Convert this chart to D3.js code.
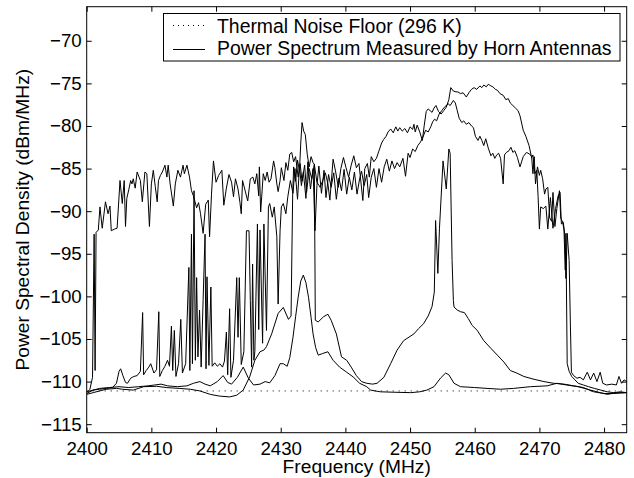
<!DOCTYPE html>
<meta charset="utf-8">
<style>
  body { margin: 0; background: #fff; }
  text { font-family: "Liberation Sans", Arial, Helvetica, sans-serif; }
</style>
<svg width="634" height="478"></svg>
<script src="https://d3js.org/d3.v7.min.js"></script>
<script>

    // ticks
    var freqTicks = [2400, 2410, 2420, 2430, 2440, 2450, 2460, 2470, 2480];
    var dbTicks = [-115, -110, -105, -100, -95, -90, -85, -80, -75, -70];

    // thermal noise floor at 296 K, dBm/MHz
    var noiseFloor = -111.1;

    var legendLabels = ["Thermal Noise Floor (296 K)", "Power Spectrum Measured by Horn Antennas"];

    // broadband signal, upper trace
    var traceA = [
        [2400.0,-111.3],[2400.5,-110.9],[2400.9,-109.5],[2401.15,-92.7],[2401.3,-108.7],[2401.45,-92.5],[2401.8,-92.2],
        [2402.05,-89.5],[2402.4,-92.0],[2402.9,-88.9],[2403.3,-90.3],[2403.6,-89.4],[2403.8,-92.3],[2404.3,-92.1],
        [2404.7,-92.0],[2405.15,-86.4],[2405.5,-89.1],[2405.8,-86.4],[2406.0,-91.8],[2406.2,-88.5],[2406.5,-87.5],
        [2406.8,-86.4],[2407.0,-86.8],[2407.2,-86.2],[2407.5,-87.3],[2407.8,-85.4],[2408.1,-86.0],[2408.3,-86.4],
        [2408.6,-88.9],[2409.0,-85.4],[2409.3,-85.6],[2409.7,-91.8],[2410.0,-86.8],[2410.3,-85.2],[2410.6,-87.1],
        [2410.9,-88.9],[2411.1,-86.4],[2411.4,-85.8],[2411.7,-85.4],[2412.1,-84.6],[2412.4,-86.0],[2412.6,-84.6],
        [2412.9,-86.8],[2413.4,-89.4],[2413.7,-86.8],[2414.1,-85.2],[2414.5,-86.0],[2414.9,-84.6],[2415.1,-85.6],
        [2415.5,-84.6],[2415.9,-86.0],[2416.2,-87.6],[2416.5,-88.2],[2417.0,-89.6],[2417.3,-89.0],[2417.6,-90.3],
        [2418.0,-92.6],[2418.4,-89.2],[2418.8,-88.7],[2419.0,-93.0],[2419.3,-88.0],[2419.6,-84.1],[2420.0,-86.6],
        [2420.4,-85.8],[2420.9,-85.2],[2421.2,-89.3],[2421.6,-87.3],[2422.0,-85.7],[2422.4,-86.6],[2422.7,-88.3],
        [2423.0,-86.2],[2423.4,-87.4],[2423.7,-89.0],[2423.9,-90.3],[2424.1,-86.4],[2424.5,-87.6],[2424.9,-88.8],
        [2425.3,-86.2],[2425.7,-86.0],[2426.0,-86.8],[2426.3,-85.6],[2426.6,-88.2],[2426.7,-84.8],[2426.9,-90.1],
        [2427.3,-85.6],[2427.6,-86.4],[2427.9,-85.4],[2428.2,-86.6],[2428.5,-86.2],[2428.9,-84.1],[2429.1,-84.9],
        [2429.4,-86.8],[2429.6,-87.7],[2429.9,-86.4],[2430.1,-84.9],[2430.5,-86.4],[2430.8,-84.3],[2431.1,-85.2],
        [2431.4,-83.3],[2431.7,-83.1],[2432.0,-84.2],[2432.3,-83.6],[2432.7,-86.0],[2433.0,-84.4],[2433.3,-86.5],
        [2433.7,-84.6],[2434.0,-87.8],[2434.4,-85.0],[2434.8,-86.2],[2435.2,-84.5],[2435.6,-86.6],[2436.1,-87.2],
        [2436.5,-86.4],[2436.9,-85.5],[2437.3,-86.8],[2437.6,-88.7],[2438.1,-83.9],[2438.5,-85.4],[2438.9,-87.2],
        [2439.3,-85.0],[2439.7,-83.7],[2440.1,-84.9],[2440.5,-86.0],[2440.9,-84.6],[2441.3,-83.5],[2441.7,-84.9],
        [2442.1,-84.4],[2442.7,-88.75],[2443.0,-85.0],[2443.4,-84.4],[2443.7,-86.0],[2444.0,-83.6],[2444.4,-84.2],
        [2444.8,-83.8],[2445.2,-82.9],[2445.6,-82.0],[2445.9,-81.6],[2446.3,-81.2],[2446.6,-80.7],[2447.0,-80.35],
        [2447.4,-80.8],[2447.8,-80.1],[2448.1,-80.6],[2448.4,-80.2],[2448.8,-80.6],[2449.2,-80.3],[2449.6,-80.8],
        [2450.0,-80.1],[2450.4,-80.4],[2450.6,-79.8],[2450.8,-80.7],[2451.1,-79.9],[2451.5,-80.7],[2451.9,-81.7],
        [2452.2,-79.9],[2452.5,-78.3],[2452.8,-78.0],[2453.1,-78.2],[2453.4,-78.4],[2453.7,-77.9],[2454.0,-77.6],
        [2454.4,-78.3],[2454.8,-78.6],[2455.2,-78.2],[2455.6,-77.8],[2456.0,-76.9],[2456.3,-75.5],[2456.7,-75.9],
        [2457.1,-76.0],[2457.4,-76.0],[2457.8,-76.2],[2458.2,-76.1],[2458.7,-76.6],[2459.1,-76.1],[2459.5,-75.7],
        [2459.9,-75.5],[2460.3,-75.7],[2460.8,-75.3],[2461.1,-75.5],[2461.4,-75.2],[2461.8,-75.4],[2462.1,-75.1],
        [2462.5,-75.3],[2462.8,-75.4],[2463.2,-75.7],[2463.5,-75.8],[2463.9,-76.2],[2464.4,-76.4],[2464.8,-76.9],
        [2465.2,-76.8],[2465.5,-77.3],[2465.9,-77.6],[2466.3,-77.9],[2466.7,-78.2],[2467.0,-78.8],[2467.5,-80.5],
        [2467.9,-81.2],[2468.4,-82.3],[2468.8,-83.7],[2469.0,-83.4],[2469.3,-85.6],[2469.6,-85.2],[2469.8,-88.3],
        [2470.0,-92.1],[2470.2,-89.5],[2470.6,-89.7],[2471.0,-89.4],[2471.3,-92.1],[2471.7,-88.4],[2472.1,-92.0],
        [2472.5,-89.7],[2472.9,-88.2],[2473.2,-87.8],[2473.4,-91.5],[2473.7,-91.3],[2473.9,-92.6],[2474.1,-97.9],
        [2474.3,-92.6],[2474.6,-95.8],[2474.8,-103.6],[2474.95,-108.9],[2475.3,-109.3],[2475.8,-109.6],[2476.3,-109.5],
        [2476.8,-109.8],[2477.4,-108.9],[2477.9,-109.8],[2478.4,-109.0],[2478.9,-110.0],[2479.4,-108.9],[2479.8,-110.2],
        [2480.4,-110.4],[2481.2,-110.3],[2481.9,-110.4],[2482.3,-109.4],[2482.7,-110.2],[2483.1,-109.8],[2483.5,-110.0]
    ];

    // hopping signal, later joins the upper band
    var traceB = [
        [2400.0,-111.4],[2401.0,-111.0],[2402.0,-110.9],[2403.0,-110.8],[2404.0,-110.7],[2404.6,-110.2],[2405.0,-108.8],
        [2405.25,-108.5],[2405.6,-109.3],[2406.0,-110.1],[2406.3,-110.2],[2406.8,-109.6],[2407.3,-109.4],[2407.8,-109.3],
        [2408.3,-108.8],[2408.65,-101.9],[2408.8,-109.2],[2409.2,-108.7],[2409.6,-108.3],[2409.9,-107.9],[2410.4,-109.0],
        [2410.8,-108.6],[2411.15,-101.8],[2411.3,-109.4],[2411.7,-108.7],[2412.1,-108.2],[2412.5,-107.5],[2412.8,-108.2],
        [2413.1,-103.5],[2413.3,-108.7],[2413.55,-104.0],[2413.8,-109.4],[2414.2,-107.9],[2414.55,-102.7],[2414.8,-109.0],
        [2415.3,-107.9],[2415.8,-96.6],[2415.95,-108.7],[2416.2,-92.7],[2416.35,-107.9],[2416.6,-87.6],[2416.8,-107.5],
        [2417.0,-97.8],[2417.2,-107.1],[2417.45,-101.6],[2417.7,-108.3],[2418.0,-100.5],[2418.3,-92.7],[2418.45,-108.5],
        [2418.6,-97.7],[2418.9,-108.1],[2419.2,-98.9],[2419.4,-108.2],[2419.8,-107.8],[2420.2,-108.2],[2420.6,-107.9],
        [2421.0,-108.3],[2421.3,-107.6],[2421.6,-104.2],[2421.8,-109.2],[2422.1,-101.45],[2422.3,-109.5],[2422.7,-107.5],
        [2423.2,-97.8],[2423.4,-104.8],[2423.6,-97.8],[2423.9,-108.0],[2424.3,-106.5],[2424.7,-92.3],[2425.1,-92.3],
        [2425.3,-100.5],[2425.5,-108.3],[2425.65,-96.2],[2425.85,-107.5],[2426.0,-106.5],[2426.4,-91.5],[2426.6,-103.9],
        [2426.8,-92.2],[2427.2,-105.5],[2427.4,-91.5],[2427.8,-104.0],[2428.1,-89.5],[2428.3,-89.1],[2428.7,-90.7],
        [2429.0,-89.5],[2429.4,-93.0],[2429.6,-100.9],[2429.9,-92.3],[2430.1,-89.5],[2430.4,-89.1],[2430.8,-90.3],
        [2431.1,-88.3],[2431.5,-86.4],[2431.9,-87.9],[2432.2,-85.0],[2432.6,-88.6],[2432.9,-84.8],[2433.2,-87.0],
        [2433.5,-85.4],[2433.9,-88.5],[2434.2,-84.2],[2434.6,-87.4],[2435.0,-85.0],[2435.3,-92.3],[2435.6,-87.0],
        [2435.9,-84.7],[2436.3,-87.9],[2436.7,-85.2],[2437.0,-88.4],[2437.4,-85.7],[2437.8,-87.2],[2438.2,-85.5],
        [2438.6,-88.6],[2439.0,-86.1],[2439.4,-87.6],[2439.8,-85.1],[2440.2,-88.0],[2440.6,-86.0],[2441.0,-87.5],
        [2441.4,-85.4],[2441.8,-88.0],[2442.2,-86.2],[2442.5,-85.3],[2442.9,-87.0],[2443.3,-85.7],[2443.6,-88.4],
        [2444.0,-86.0],[2444.4,-85.0],[2444.8,-87.2],[2445.2,-85.0],[2445.6,-86.6],[2446.0,-84.8],[2446.4,-83.9],
        [2446.8,-85.3],[2447.2,-84.1],[2447.6,-85.0],[2448.0,-84.3],[2448.4,-84.8],[2448.9,-83.8],[2449.3,-85.9],
        [2449.7,-83.2],[2450.0,-83.7],[2450.4,-82.7],[2450.8,-83.0],[2451.2,-82.3],[2451.6,-81.9],[2452.0,-81.3],
        [2452.4,-80.5],[2452.8,-80.7],[2453.2,-80.1],[2453.5,-79.5],[2453.8,-79.2],[2454.1,-79.4],[2454.5,-78.6],
        [2454.9,-78.2],[2455.3,-77.8],[2455.9,-77.4],[2456.2,-77.6],[2456.7,-77.0],[2457.0,-77.3],[2457.3,-78.2],
        [2457.6,-79.1],[2458.0,-79.6],[2458.3,-79.4],[2458.7,-79.8],[2459.1,-79.6],[2459.5,-80.0],[2459.8,-80.2],
        [2460.1,-81.2],[2460.5,-81.7],[2460.8,-81.2],[2461.1,-81.7],[2461.4,-82.3],[2461.7,-81.5],[2462.1,-82.6],
        [2462.5,-83.5],[2462.8,-83.2],[2463.1,-83.8],[2463.4,-83.4],[2463.7,-83.2],[2464.0,-83.8],[2464.4,-86.8],
        [2464.6,-83.4],[2464.9,-83.1],[2465.3,-82.9],[2465.6,-82.5],[2465.9,-83.1],[2466.2,-82.9],[2466.6,-83.7],
        [2467.0,-84.8],[2467.5,-83.6],[2468.0,-83.1],[2468.5,-83.3],[2468.8,-83.6],[2469.0,-85.6],[2469.2,-83.6],
        [2469.4,-86.8],[2469.7,-84.8],[2470.0,-85.8],[2470.2,-85.2],[2470.5,-86.2],[2470.8,-88.0],[2471.0,-87.4],
        [2471.3,-87.2],[2471.6,-90.8],[2471.9,-91.2],[2472.1,-87.8],[2472.4,-91.8],[2472.7,-89.7],[2473.1,-87.6],
        [2473.3,-90.8],[2473.6,-91.3],[2473.8,-92.2],[2474.0,-96.9],[2474.1,-92.6],[2474.3,-107.9],[2474.6,-108.8],
        [2475.0,-109.4],[2475.5,-109.8],[2476.0,-110.2],[2476.8,-110.4],[2477.6,-110.6],[2478.5,-110.8],[2479.5,-111.0],
        [2480.5,-111.2],[2481.5,-111.3],[2482.5,-111.2],[2483.5,-111.3]
    ];

    // narrowband signals near 2433 and 2456 MHz
    var traceC = [
        [2400.0,-111.5],[2401.0,-111.3],[2402.0,-111.1],[2403.0,-110.9],[2404.6,-110.8],[2405.5,-110.9],[2407.2,-111.0],
        [2408.8,-110.6],[2410.8,-110.55],[2412.3,-110.7],[2414.3,-110.8],[2416.0,-110.9],[2417.5,-111.1],[2419.1,-111.5],
        [2420.5,-111.7],[2422.1,-111.8],[2423.2,-111.6],[2424.2,-111.0],[2425.2,-109.45],[2426.0,-107.5],[2426.8,-106.5],
        [2427.4,-106.3],[2427.8,-105.9],[2428.6,-104.4],[2429.6,-102.0],[2430.4,-101.3],[2431.2,-102.7],[2431.6,-102.3],
        [2431.85,-88.0],[2432.0,-84.8],[2432.3,-86.5],[2432.6,-84.0],[2432.9,-85.3],[2433.1,-82.0],[2433.3,-79.6],
        [2433.55,-80.6],[2433.8,-81.0],[2434.1,-83.3],[2434.4,-84.8],[2434.7,-83.6],[2435.0,-84.3],[2435.2,-84.5],
        [2435.35,-102.8],[2435.8,-103.0],[2436.6,-102.4],[2437.3,-102.1],[2437.8,-102.8],[2438.6,-104.4],[2439.4,-107.1],
        [2440.2,-107.5],[2440.9,-108.3],[2441.7,-109.3],[2442.5,-110.0],[2443.3,-110.2],[2444.2,-110.3],[2444.9,-110.2],
        [2445.95,-109.5],[2447.0,-107.9],[2448.0,-106.3],[2449.0,-105.2],[2450.6,-104.4],[2451.3,-103.8],[2452.1,-103.2],
        [2452.8,-102.3],[2453.4,-101.2],[2453.75,-99.5],[2453.95,-91.1],[2454.3,-97.3],[2454.55,-92.0],[2455.1,-84.1],
        [2455.6,-87.4],[2456.0,-82.7],[2456.2,-83.2],[2456.5,-95.8],[2456.7,-100.5],[2456.8,-101.25],[2457.3,-101.6],
        [2457.8,-101.8],[2458.4,-101.9],[2459.0,-102.6],[2459.6,-103.4],[2460.4,-104.0],[2461.4,-105.2],[2462.5,-106.1],
        [2463.5,-106.9],[2464.5,-107.7],[2465.5,-108.7],[2466.5,-109.0],[2467.6,-109.4],[2469.0,-109.7],[2470.7,-110.0],
        [2472.2,-110.2],[2473.8,-110.3],[2475.3,-110.5],[2476.8,-110.7],[2478.4,-111.2],[2480.0,-111.4],[2481.5,-111.4],
        [2483.5,-111.3]
    ];

    // weak trace with small humps
    var traceD = [
        [2400.0,-111.2],[2401.0,-111.0],[2402.0,-110.8],[2403.5,-110.7],[2405.0,-110.6],[2406.5,-110.7],[2408.0,-110.6],
        [2409.5,-110.5],[2410.5,-110.4],[2411.5,-110.3],[2412.5,-110.5],[2414.0,-110.6],[2415.5,-110.5],[2416.5,-110.2],
        [2417.5,-110.0],[2418.3,-110.3],[2419.1,-110.5],[2420.2,-110.0],[2421.1,-109.3],[2421.8,-110.1],[2422.4,-110.3],
        [2423.3,-109.5],[2424.2,-108.3],[2425.0,-109.6],[2425.8,-110.4],[2426.8,-110.3],[2427.6,-110.0],[2428.3,-110.15],
        [2429.1,-109.3],[2429.9,-107.9],[2430.4,-107.9],[2431.0,-108.2],[2431.4,-107.2],[2431.9,-104.8],[2432.3,-102.4],
        [2432.7,-100.1],[2433.1,-98.2],[2433.5,-97.5],[2433.9,-98.4],[2434.3,-100.1],[2434.7,-102.5],[2435.0,-104.4],
        [2435.4,-106.0],[2435.8,-106.9],[2436.5,-106.7],[2437.3,-106.5],[2438.1,-107.5],[2439.1,-108.3],[2440.2,-108.9],
        [2441.2,-109.45],[2442.2,-110.2],[2443.3,-110.6],[2443.9,-111.0],[2445.4,-111.2],[2447.5,-111.25],[2450.1,-111.3],
        [2451.5,-111.2],[2452.6,-111.0],[2453.7,-110.6],[2454.7,-109.6],[2455.5,-109.0],[2456.0,-109.2],[2456.8,-110.2],
        [2457.8,-110.6],[2460.0,-110.7],[2461.9,-110.8],[2464.0,-110.9],[2466.0,-110.8],[2468.6,-110.6],[2471.2,-110.5],
        [2472.7,-110.2],[2474.2,-110.4],[2476.0,-110.6],[2477.9,-111.0],[2479.4,-111.3],[2480.5,-111.5],[2482.0,-111.3],
        [2483.5,-111.3]
    ];

    var traces = [traceA, traceB, traceC, traceD];

    var svg = d3.select("svg"),
        plotLeft = 86.7, plotRight = 626.7, plotTop = 6.7, plotBottom = 432.7,
        tickFont = 18.7, labelFont = 19.2, legendFont = 19.4;

    svg.append("rect").attr("width", 634).attr("height", 478).attr("fill", "#fff");

    var x = d3.scaleLinear().domain([2400, 2483.5]).range([plotLeft, plotRight]);
    var y = d3.scaleLinear().domain([-116, -66]).range([plotBottom, plotTop]);

    svg.append("clipPath").attr("id", "plot")
        .append("rect").attr("x", plotLeft).attr("y", plotTop)
        .attr("width", plotRight - plotLeft).attr("height", plotBottom - plotTop);

    var line = d3.line()
        .x(function (d) { return x(d[0]); })
        .y(function (d) { return y(d[1]); });

    var plot = svg.append("g").attr("clip-path", "url(#plot)");

    // noise floor
    plot.append("line")
        .attr("x1", x(2400)).attr("x2", x(2483.5))
        .attr("y1", y(noiseFloor)).attr("y2", y(noiseFloor))
        .attr("stroke", "#000").attr("stroke-width", 1)
        .attr("stroke-dasharray", "1,5");

    plot.selectAll("path.trace")
        .data(traces)
        .enter().append("path")
        .attr("class", "trace")
        .attr("d", line)
        .attr("fill", "none")
        .attr("stroke", "#000")
        .attr("stroke-width", 1)
        .attr("stroke-linejoin", "round");

    // axes, ticks inside on all four sides
    function styleAxis(g) {
        g.select(".domain").remove();
        g.selectAll("line").attr("stroke", "#000");
        g.selectAll("text").attr("font-size", tickFont).attr("fill", "#000")
            .style("font-family", "'Liberation Sans', Arial, sans-serif");
    }

    var fmt = d3.format("d");

    svg.append("g").attr("transform", "translate(0," + plotBottom + ")")
        .call(d3.axisBottom(x).tickValues(freqTicks).tickFormat(fmt)
            .tickSizeInner(-5).tickSizeOuter(0).tickPadding(9))
        .call(styleAxis);
    svg.append("g").attr("transform", "translate(0," + plotTop + ")")
        .call(d3.axisTop(x).tickValues(freqTicks).tickSizeInner(-5).tickSizeOuter(0).tickFormat(""))
        .call(styleAxis);
    svg.append("g").attr("transform", "translate(" + plotLeft + ",0)")
        .call(d3.axisLeft(y).tickValues(dbTicks).tickFormat(fmt)
            .tickSizeInner(-5).tickSizeOuter(0).tickPadding(5))
        .call(styleAxis);
    svg.append("g").attr("transform", "translate(" + plotRight + ",0)")
        .call(d3.axisRight(y).tickValues(dbTicks).tickSizeInner(-5).tickSizeOuter(0).tickFormat(""))
        .call(styleAxis);

    svg.append("rect")
        .attr("x", plotLeft).attr("y", plotTop)
        .attr("width", plotRight - plotLeft).attr("height", plotBottom - plotTop)
        .attr("fill", "none").attr("stroke", "#000").attr("stroke-width", 1);

    // labels
    svg.append("text")
        .attr("x", (plotLeft + plotRight) / 2).attr("y", 472.5)
        .attr("text-anchor", "middle").attr("font-size", labelFont)
        .text("Frequency (MHz)");

    svg.append("text")
        .attr("transform", "translate(28.5," + (plotTop + plotBottom) / 2 + ") rotate(-90)")
        .attr("text-anchor", "middle").attr("font-size", labelFont)
        .text("Power Spectral Density (dBm/MHz)");

    // legend
    var legend = svg.append("g");
    legend.append("rect")
        .attr("x", 163.5).attr("y", 13.5).attr("width", 456.5).attr("height", 47.5)
        .attr("fill", "#fff").attr("stroke", "#000").attr("stroke-width", 1);

    legend.append("line")
        .attr("x1", 173).attr("x2", 204).attr("y1", 25.5).attr("y2", 25.5)
        .attr("stroke", "#000").attr("stroke-width", 1).attr("stroke-dasharray", "1,4");
    legend.append("line")
        .attr("x1", 173).attr("x2", 205).attr("y1", 49.5).attr("y2", 49.5)
        .attr("stroke", "#000").attr("stroke-width", 1);

    legend.selectAll("text.lab")
        .data(legendLabels)
        .enter().append("text")
        .attr("class", "lab")
        .attr("x", 217)
        .attr("y", function (d, i) { return 32.7 + i * 22.3; })
        .attr("font-size", legendFont)
        .text(function (d) { return d; });

</script>
